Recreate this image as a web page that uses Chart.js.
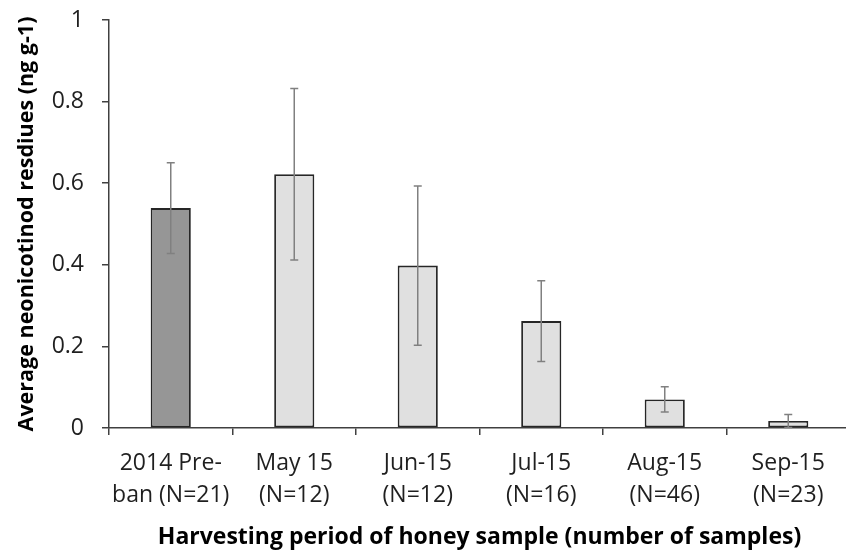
<!DOCTYPE html>
<html>
<head>
<meta charset="utf-8">
<script src="https://cdn.jsdelivr.net/npm/chart.js@4"></script>
<style>
body{margin:0;background:#fff;overflow:hidden}
#wrap{width:846px;height:556px;overflow:hidden}
</style>
</head>
<body>
<div id="wrap"><canvas id="chart" width="852" height="556"></canvas></div>
<script>
const categories=[["2014 Pre-","ban (N=21)"],["May 15","(N=12)"],["Jun-15","(N=12)"],["Jul-15","(N=16)"],["Aug-15","(N=46)"],["Sep-15","(N=23)"]]
const means=[0.539,0.622,0.398,0.262,0.070,0.017]
const errors=[0.111,0.210,0.195,0.099,0.031,0.016]
const barColors=["#969696","#e0e0e0","#e0e0e0","#e0e0e0","#e0e0e0","#e0e0e0"]

const font="'Open Sans', sans-serif"

// error whiskers on top of each bar
const errorBars={
id:"errorBars",
afterDatasetsDraw(chart){
let ctx=chart.ctx
let x=chart.scales.x, y=chart.scales.y
ctx.save()
ctx.strokeStyle="#808080"
ctx.lineWidth=1.5
means.forEach((m,i)=>{
let px=x.getPixelForValue(i)
let top=y.getPixelForValue(m+errors[i])
let bot=y.getPixelForValue(Math.max(0,m-errors[i]))
ctx.beginPath()
ctx.moveTo(px,top);ctx.lineTo(px,bot)
ctx.moveTo(px-4,top);ctx.lineTo(px+4,top)
ctx.moveTo(px-4,bot);ctx.lineTo(px+4,bot)
ctx.stroke()
})
ctx.restore()
}
}

new Chart(document.getElementById("chart"),{
type:"bar",
data:{
labels:categories,
datasets:[{
data:means,
backgroundColor:barColors,
borderColor:"#262626",
borderWidth:1.8,
borderSkipped:false,
barPercentage:0.325,
categoryPercentage:1
}]
},
options:{
responsive:false,
animation:false,
layout:{padding:{top:20,right:2,left:0,bottom:0}},
plugins:{legend:{display:false},tooltip:{enabled:false}},
scales:{
x:{
grid:{display:true,drawOnChartArea:false,drawTicks:true,tickLength:7,color:"#404040",lineWidth:1.5,offset:true},
border:{display:true,color:"#404040",width:1.5},
ticks:{color:"#1f1f1f",font:{family:font,size:23,lineHeight:1.4},padding:12,maxRotation:0,autoSkip:false},
title:{display:true,text:"Harvesting period of honey sample (number of samples)",color:"#000",font:{family:font,size:23,weight:"bold"},padding:{top:5,bottom:5}},
afterFit(s){s.height=128;s.paddingLeft=0;s.paddingRight=0}
},
y:{
min:0,max:1,
grid:{display:true,drawOnChartArea:false,drawTicks:true,tickLength:7,color:"#404040",lineWidth:1.5},
border:{display:true,color:"#404040",width:1.5},
ticks:{stepSize:0.2,color:"#1f1f1f",font:{family:font,size:23},padding:18,callback:v=>String(Math.round(v*10)/10)},
title:{display:true,text:"Average neonicotinod resdiues (ng g-1)",color:"#000",font:{family:font,size:21.5,weight:"bold"},padding:{top:14,bottom:14}},
afterFit(s){s.width=109;s.paddingTop=0;s.paddingBottom=0}
}
}
},
plugins:[errorBars]
})
</script>
</body>
</html>
